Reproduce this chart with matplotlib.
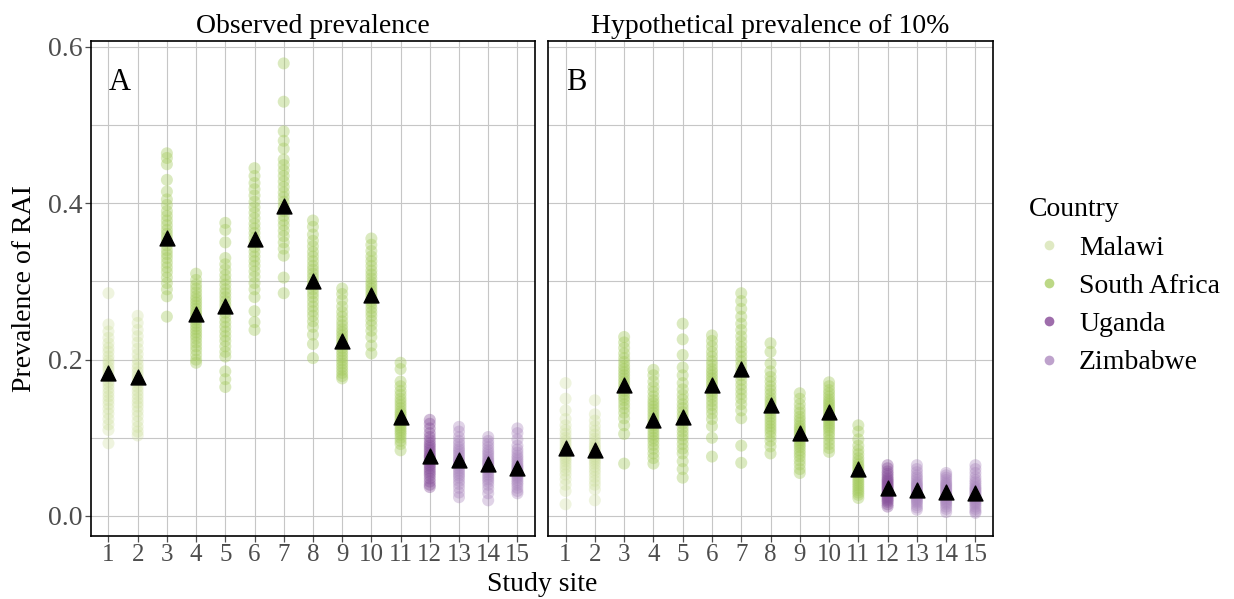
import matplotlib
matplotlib.use("Agg")
import matplotlib.pyplot as plt
from matplotlib.lines import Line2D

plt.rcParams['font.family'] = ['Liberation Serif', 'DejaVu Serif']

sites = list(range(1, 16))
site_country = ['Malawi', 'Malawi'] + ['South Africa'] * 9 + ['Uganda'] + ['Zimbabwe'] * 3
countries = ['Malawi', 'South Africa', 'Uganda', 'Zimbabwe']

# simulated prevalence draws per site, panel A (observed prevalence)
obs_draws = [
    [0.285, 0.245, 0.236, 0.228, 0.221, 0.215, 0.210, 0.204, 0.199, 0.195, 0.190, 0.186, 0.181, 0.177, 0.172, 0.168, 0.163, 0.158, 0.153, 0.148, 0.143, 0.137, 0.131, 0.124, 0.117, 0.110, 0.093],
    [0.256, 0.247, 0.238, 0.230, 0.222, 0.214, 0.207, 0.200, 0.194, 0.189, 0.184, 0.179, 0.175, 0.170, 0.165, 0.160, 0.155, 0.150, 0.145, 0.140, 0.134, 0.128, 0.121, 0.114, 0.108, 0.103],
    [0.464, 0.458, 0.450, 0.430, 0.415, 0.405, 0.398, 0.390, 0.384, 0.378, 0.372, 0.366, 0.361, 0.356, 0.351, 0.346, 0.340, 0.335, 0.330, 0.324, 0.318, 0.312, 0.305, 0.298, 0.290, 0.281, 0.255],
    [0.310, 0.302, 0.296, 0.291, 0.286, 0.281, 0.277, 0.273, 0.269, 0.265, 0.261, 0.258, 0.255, 0.251, 0.247, 0.243, 0.239, 0.235, 0.231, 0.227, 0.222, 0.217, 0.212, 0.206, 0.200, 0.196],
    [0.375, 0.366, 0.350, 0.330, 0.322, 0.315, 0.308, 0.302, 0.296, 0.290, 0.285, 0.280, 0.275, 0.270, 0.265, 0.260, 0.254, 0.248, 0.242, 0.236, 0.230, 0.224, 0.217, 0.210, 0.204, 0.185, 0.175, 0.165],
    [0.445, 0.435, 0.426, 0.418, 0.410, 0.402, 0.395, 0.388, 0.381, 0.374, 0.368, 0.362, 0.356, 0.350, 0.344, 0.338, 0.332, 0.326, 0.320, 0.313, 0.306, 0.298, 0.290, 0.280, 0.262, 0.248, 0.238],
    [0.579, 0.530, 0.492, 0.480, 0.470, 0.456, 0.449, 0.442, 0.435, 0.428, 0.421, 0.414, 0.408, 0.402, 0.396, 0.390, 0.384, 0.378, 0.372, 0.365, 0.358, 0.350, 0.342, 0.333, 0.305, 0.285],
    [0.378, 0.370, 0.360, 0.352, 0.345, 0.338, 0.332, 0.326, 0.320, 0.315, 0.310, 0.305, 0.300, 0.295, 0.290, 0.285, 0.280, 0.274, 0.268, 0.262, 0.256, 0.249, 0.242, 0.232, 0.220, 0.202],
    [0.291, 0.284, 0.276, 0.268, 0.261, 0.255, 0.249, 0.244, 0.239, 0.235, 0.231, 0.227, 0.223, 0.219, 0.215, 0.211, 0.207, 0.203, 0.199, 0.195, 0.191, 0.187, 0.183, 0.179, 0.176],
    [0.355, 0.347, 0.339, 0.332, 0.326, 0.320, 0.314, 0.309, 0.304, 0.299, 0.295, 0.291, 0.287, 0.283, 0.279, 0.275, 0.271, 0.266, 0.261, 0.256, 0.250, 0.244, 0.237, 0.229, 0.218, 0.208],
    [0.196, 0.188, 0.172, 0.166, 0.160, 0.155, 0.150, 0.146, 0.142, 0.138, 0.134, 0.131, 0.128, 0.125, 0.122, 0.119, 0.116, 0.113, 0.110, 0.107, 0.104, 0.100, 0.096, 0.092, 0.084],
    [0.123, 0.118, 0.112, 0.106, 0.101, 0.097, 0.093, 0.090, 0.087, 0.084, 0.081, 0.078, 0.076, 0.074, 0.071, 0.069, 0.066, 0.064, 0.061, 0.058, 0.055, 0.052, 0.048, 0.044, 0.040, 0.037],
    [0.114, 0.108, 0.101, 0.096, 0.092, 0.088, 0.085, 0.082, 0.079, 0.076, 0.073, 0.071, 0.069, 0.066, 0.064, 0.061, 0.058, 0.055, 0.052, 0.049, 0.045, 0.041, 0.036, 0.030, 0.024],
    [0.101, 0.096, 0.092, 0.088, 0.084, 0.081, 0.078, 0.075, 0.072, 0.070, 0.068, 0.066, 0.064, 0.061, 0.059, 0.056, 0.053, 0.050, 0.047, 0.044, 0.040, 0.035, 0.029, 0.020],
    [0.112, 0.106, 0.098, 0.090, 0.085, 0.081, 0.077, 0.074, 0.071, 0.068, 0.065, 0.063, 0.061, 0.059, 0.057, 0.055, 0.053, 0.051, 0.049, 0.046, 0.043, 0.040, 0.036, 0.032, 0.029],
]
obs_mean = [0.183, 0.178, 0.356, 0.259, 0.268, 0.354, 0.397, 0.300, 0.224, 0.283, 0.127, 0.077, 0.072, 0.066, 0.062]

# panel B (hypothetical prevalence of 10%)
hyp_draws = [
    [0.170, 0.150, 0.135, 0.124, 0.116, 0.110, 0.105, 0.100, 0.096, 0.092, 0.088, 0.085, 0.082, 0.079, 0.076, 0.073, 0.070, 0.066, 0.062, 0.058, 0.053, 0.047, 0.040, 0.032, 0.015],
    [0.148, 0.130, 0.122, 0.115, 0.109, 0.104, 0.099, 0.095, 0.091, 0.088, 0.085, 0.082, 0.079, 0.076, 0.073, 0.070, 0.067, 0.063, 0.059, 0.055, 0.050, 0.045, 0.040, 0.034, 0.020],
    [0.229, 0.222, 0.215, 0.208, 0.202, 0.197, 0.192, 0.188, 0.184, 0.180, 0.176, 0.172, 0.168, 0.164, 0.160, 0.156, 0.152, 0.148, 0.143, 0.138, 0.132, 0.125, 0.116, 0.105, 0.067],
    [0.187, 0.180, 0.172, 0.165, 0.159, 0.153, 0.148, 0.144, 0.140, 0.136, 0.132, 0.128, 0.124, 0.120, 0.116, 0.112, 0.108, 0.104, 0.100, 0.096, 0.091, 0.086, 0.080, 0.074, 0.067],
    [0.246, 0.226, 0.206, 0.190, 0.180, 0.170, 0.162, 0.155, 0.149, 0.143, 0.138, 0.133, 0.128, 0.123, 0.118, 0.113, 0.108, 0.103, 0.098, 0.092, 0.086, 0.080, 0.070, 0.060, 0.049],
    [0.231, 0.224, 0.217, 0.210, 0.204, 0.198, 0.193, 0.188, 0.184, 0.180, 0.176, 0.172, 0.168, 0.164, 0.160, 0.156, 0.152, 0.147, 0.142, 0.137, 0.131, 0.124, 0.115, 0.100, 0.076],
    [0.285, 0.275, 0.265, 0.255, 0.246, 0.238, 0.230, 0.223, 0.216, 0.210, 0.204, 0.198, 0.192, 0.186, 0.180, 0.174, 0.168, 0.162, 0.156, 0.150, 0.143, 0.135, 0.125, 0.090, 0.068],
    [0.221, 0.210, 0.195, 0.185, 0.178, 0.172, 0.166, 0.161, 0.156, 0.151, 0.147, 0.143, 0.139, 0.135, 0.131, 0.127, 0.123, 0.119, 0.115, 0.111, 0.107, 0.102, 0.096, 0.089, 0.080],
    [0.157, 0.150, 0.143, 0.137, 0.132, 0.127, 0.123, 0.119, 0.115, 0.112, 0.109, 0.106, 0.103, 0.100, 0.097, 0.094, 0.091, 0.088, 0.084, 0.080, 0.076, 0.071, 0.066, 0.060, 0.055],
    [0.171, 0.166, 0.161, 0.157, 0.153, 0.149, 0.146, 0.143, 0.140, 0.137, 0.134, 0.131, 0.128, 0.125, 0.122, 0.119, 0.116, 0.113, 0.110, 0.106, 0.102, 0.097, 0.092, 0.087, 0.082],
    [0.116, 0.108, 0.098, 0.090, 0.084, 0.079, 0.074, 0.070, 0.066, 0.063, 0.060, 0.057, 0.054, 0.051, 0.048, 0.045, 0.042, 0.039, 0.036, 0.033, 0.030, 0.027, 0.023],
    [0.065, 0.061, 0.057, 0.054, 0.051, 0.048, 0.046, 0.044, 0.042, 0.040, 0.038, 0.036, 0.034, 0.032, 0.030, 0.028, 0.026, 0.024, 0.022, 0.020, 0.018, 0.015, 0.012],
    [0.065, 0.060, 0.056, 0.052, 0.049, 0.046, 0.043, 0.041, 0.039, 0.037, 0.035, 0.033, 0.031, 0.029, 0.027, 0.025, 0.023, 0.021, 0.019, 0.017, 0.014, 0.011, 0.008],
    [0.055, 0.052, 0.049, 0.046, 0.043, 0.041, 0.039, 0.037, 0.035, 0.033, 0.031, 0.029, 0.027, 0.025, 0.023, 0.021, 0.019, 0.017, 0.015, 0.012, 0.009, 0.005],
    [0.065, 0.060, 0.055, 0.050, 0.046, 0.043, 0.040, 0.037, 0.035, 0.033, 0.031, 0.029, 0.027, 0.025, 0.023, 0.021, 0.019, 0.017, 0.015, 0.012, 0.009, 0.006, 0.004],
]
hyp_mean = [0.087, 0.085, 0.168, 0.123, 0.126, 0.168, 0.188, 0.142, 0.106, 0.133, 0.060, 0.036, 0.033, 0.031, 0.030]

point_col = {'Malawi': '#cadd96', 'South Africa': '#a2ca5a', 'Uganda': '#87509a', 'Zimbabwe': '#a985bd'}
point_alpha = {'Malawi': 0.3, 'South Africa': 0.38, 'Uganda': 0.38, 'Zimbabwe': 0.36}
legend_col = {'Malawi': '#dfe9c3', 'South Africa': '#bcd886', 'Uganda': '#9e6dab', 'Zimbabwe': '#bea2cc'}

fig = plt.figure(figsize=(12.34, 5.99), dpi=100)
axA = fig.add_axes([0.0737, 0.1052, 0.3598, 0.8264])
axB = fig.add_axes([0.4441, 0.1052, 0.3606, 0.8264])

panels = [(axA, obs_draws, obs_mean, 'Observed prevalence', 'A'),
          (axB, hyp_draws, hyp_mean, 'Hypothetical prevalence of 10%', 'B')]

for ax, draws, means, title, letter in panels:
    for s, vals, c in zip(sites, draws, site_country):
        ax.scatter([s] * len(vals), vals, s=75, color=point_col[c],
                   alpha=point_alpha[c], edgecolors='none', zorder=2)
    ax.scatter(sites, means, marker='^', s=115, color='black', zorder=3)
    ax.set_xlim(0.4, 15.6)
    ax.set_ylim(-0.0256, 0.6077)
    ax.set_xticks(sites)
    ax.set_xticklabels([str(s) for s in sites])
    ax.set_yticks([0.0, 0.2, 0.4, 0.6])
    ax.set_yticks([0.1, 0.3, 0.5], minor=True)
    ax.grid(True, which='both', color='#c6c6c6', linewidth=0.8, zorder=0)
    ax.set_axisbelow(True)
    for sp in ax.spines.values():
        sp.set_color('black')
        sp.set_linewidth(1.2)
    ax.tick_params(axis='x', which='major', labelsize=18, colors='#4d4d4d',
                   length=4, width=0.9, pad=2)
    ax.tick_params(axis='y', which='major', labelsize=20, colors='#4d4d4d',
                   length=4, width=0.9, pad=2)
    ax.tick_params(axis='y', which='minor', length=0)
    ax.set_title(title, fontsize=20, pad=6)
    ax.text(0.04, 0.945, letter, transform=ax.transAxes, fontsize=22,
            ha='left', va='top')

axB.set_yticklabels([])
axB.tick_params(axis='y', which='major', length=0)
axA.set_ylabel('Prevalence of RAI', fontsize=20, labelpad=8)
fig.text(0.439, 0.003, 'Study site', fontsize=20, ha='center', va='bottom')

handles = [Line2D([], [], marker='o', linestyle='none', markersize=7,
                  markerfacecolor=legend_col[c], markeredgecolor='none')
           for c in countries]
leg = fig.legend(handles, countries, title='Country', loc='center left',
                 bbox_to_anchor=(0.8245, 0.522), frameon=False, fontsize=20,
                 title_fontsize=20, handletextpad=0.32, labelspacing=0.46,
                 borderaxespad=0, handlelength=1.5)
leg._legend_box.align = 'left'

fig.savefig('out.png', dpi=100)
